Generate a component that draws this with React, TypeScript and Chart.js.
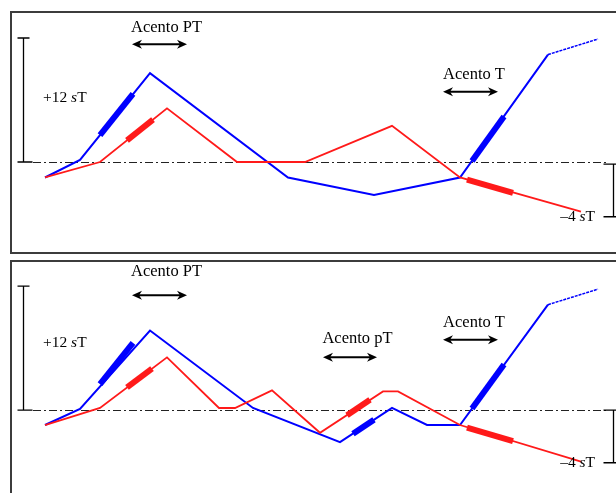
import React, { useEffect, useRef } from "react";
import { Chart, registerables } from "chart.js";
Chart.register(...registerables);

// x: time (arbitrary units), y: pitch in semitones (sT) relative to the reference line
// Panel 1
const p1BlueX = [0, 7, 21, 48.6, 65.8, 83, 100.6];
const p1BlueY = [-1.5, 0.2, 8.6, -1.5, -3.2, -1.5, 10.4];
const p1BlueTailX = [100.6, 110.6];
const p1BlueTailY = [10.4, 11.9];
const p1RedX = [0, 11, 24.4, 38.4, 52, 69.4, 83, 107.2];
const p1RedY = [-1.5, 0, 5.2, 0, 0, 3.5, -1.5, -4.8];
const p1BlueAccX = [[11, 17.6], [85.4, 91.8]];
const p1BlueAccY = [[2.6, 6.6], [0.1, 4.4]];
const p1RedAccX = [[16.4, 21.6], [84.4, 93.6]];
const p1RedAccY = [[2.1, 4.1], [-1.7, -3.0]];

// Panel 2
const p2BlueX = [0, 7, 21, 41.6, 59, 69.4, 76.4, 83, 100.6];
const p2BlueY = [-1.45, 0.1, 7.7, 0.2, -3.1, 0.2, -1.45, -1.45, 10.2];
const p2BlueTailX = [100.6, 110.6];
const p2BlueTailY = [10.2, 11.7];
const p2RedX = [0, 11, 24.4, 34.8, 38, 45.4, 55, 67.6, 70.6, 83, 107.2];
const p2RedY = [-1.45, 0.2, 5.1, 0.2, 0.2, 1.9, -2.2, 1.8, 1.8, -1.45, -5.0];
const p2BlueAccX = [[11, 17.6], [61.6, 65.8], [85.4, 91.8]];
const p2BlueAccY = [[2.5, 6.5], [-2.3, -0.95], [0.15, 4.4]];
const p2RedAccX = [[16.4, 21.4], [60.4, 65], [84.4, 93.6]];
const p2RedAccY = [[2.2, 4.0], [-0.5, 1.0], [-1.7, -3.0]];

// Labels
const accentLabels = ["Acento PT", "Acento T", "Acento pT"];
const rangeUp = "+12";
const rangeDown = "\u20134";
const unitItalic = "s";
const unitRest = "T";

const BLUE = "#0000ff";
const RED = "#ff1a1a";

const pts = (xs: number[], ys: number[]) => xs.map((x, i) => ({ x, y: ys[i] }));

function lineDs(xs: number[], ys: number[], color: string, width: number, axis: string, dash: number[] = []) {
  return {
    data: pts(xs, ys),
    showLine: true,
    borderColor: color,
    backgroundColor: color,
    borderWidth: width,
    borderDash: dash,
    pointRadius: 0,
    tension: 0,
    yAxisID: axis,
    clip: false as any,
    borderCapStyle: "butt" as const,
    borderJoinStyle: "miter" as const,
  };
}

type Ann = { text: string; x: number; y: number; ax1: number; ax2: number; ay: number };
type Panel = {
  axis: string;
  anns: Ann[];
  upLabelY: number;
  downTop: number;
  downBottom: number;
  downLabelY: number;
};

const panels: Panel[] = [
  {
    axis: "y1",
    anns: [
      { text: accentLabels[0], x: 24.3, y: 13.0, ax1: 17.4, ax2: 28.4, ay: 11.4 },
      { text: accentLabels[1], x: 85.8, y: 8.5, ax1: 79.6, ax2: 90.6, ay: 6.8 },
    ],
    upLabelY: 6.2,
    downTop: -0.2,
    downBottom: -5.3,
    downLabelY: -5.3,
  },
  {
    axis: "y2",
    anns: [
      { text: accentLabels[0], x: 24.3, y: 13.4, ax1: 17.4, ax2: 28.4, ay: 11.1 },
      { text: accentLabels[2], x: 62.5, y: 6.9, ax1: 55.6, ax2: 66.4, ay: 5.1 },
      { text: accentLabels[1], x: 85.8, y: 8.5, ax1: 79.6, ax2: 90.6, ay: 6.8 },
    ],
    upLabelY: 6.5,
    downTop: 0,
    downBottom: -5.1,
    downLabelY: -5.1,
  },
];

function drawArrow(ctx: CanvasRenderingContext2D, x1: number, x2: number, y: number) {
  const hl = 9, hw = 4.5;
  ctx.save();
  ctx.strokeStyle = "#000";
  ctx.fillStyle = "#000";
  ctx.lineWidth = 2;
  ctx.beginPath();
  ctx.moveTo(x1 + hl - 2, y);
  ctx.lineTo(x2 - hl + 2, y);
  ctx.stroke();
  ctx.beginPath();
  ctx.moveTo(x1, y);
  ctx.lineTo(x1 + hl + 1, y - hw);
  ctx.lineTo(x1 + hl - 2, y);
  ctx.lineTo(x1 + hl + 1, y + hw);
  ctx.closePath();
  ctx.fill();
  ctx.beginPath();
  ctx.moveTo(x2, y);
  ctx.lineTo(x2 - hl - 1, y - hw);
  ctx.lineTo(x2 - hl + 2, y);
  ctx.lineTo(x2 - hl - 1, y + hw);
  ctx.closePath();
  ctx.fill();
  ctx.restore();
}

function drawUnitLabel(ctx: CanvasRenderingContext2D, num: string, x: number, y: number, align: "left" | "right") {
  const normal = '15.5px "Liberation Serif"';
  const ital = 'italic 15.5px "Liberation Serif"';
  ctx.font = normal;
  const w1 = ctx.measureText(num + " ").width;
  const w3 = ctx.measureText(unitRest).width;
  ctx.font = ital;
  const w2 = ctx.measureText(unitItalic).width;
  const total = w1 + w2 + w3;
  const sx = align === "left" ? x : x - total;
  ctx.fillStyle = "#000";
  ctx.textBaseline = "middle";
  ctx.textAlign = "left";
  ctx.font = normal;
  ctx.fillText(num + " ", sx, y);
  ctx.font = ital;
  ctx.fillText(unitItalic, sx + w1, y);
  ctx.font = normal;
  ctx.fillText(unitRest, sx + w1 + w2, y);
}

const annotationPlugin = {
  id: "prosodyAnnotations",
  beforeDatasetsDraw(chart: any) {
    const ctx: CanvasRenderingContext2D = chart.ctx;
    const xs = chart.scales.x;
    panels.forEach((p) => {
      const ys = chart.scales[p.axis];
      const y0 = Math.round(ys.getPixelForValue(0)) + 0.5;
      ctx.save();
      ctx.strokeStyle = "#222";
      ctx.lineWidth = 1.2;
      ctx.setLineDash([8, 3, 2, 3]);
      ctx.beginPath();
      ctx.moveTo(xs.getPixelForValue(-2.4), y0);
      ctx.lineTo(xs.getPixelForValue(112.2), y0);
      ctx.stroke();
      ctx.restore();
    });
  },
  afterDatasetsDraw(chart: any) {
    const ctx: CanvasRenderingContext2D = chart.ctx;
    const xs = chart.scales.x;
    panels.forEach((p) => {
      const ys = chart.scales[p.axis];
      // +12 sT bracket
      const bx = Math.round(xs.getPixelForValue(-4.4)) + 0.5;
      const bTop = ys.getPixelForValue(12);
      const bBot = ys.getPixelForValue(0);
      ctx.save();
      ctx.strokeStyle = "#000";
      ctx.lineWidth = 1.3;
      ctx.beginPath();
      ctx.moveTo(bx, bTop);
      ctx.lineTo(bx, bBot);
      ctx.moveTo(bx - 6, bTop);
      ctx.lineTo(bx + 6, bTop);
      ctx.moveTo(bx - 6, bBot);
      ctx.lineTo(bx + 9, bBot);
      // -4 sT bracket
      const rx = Math.round(xs.getPixelForValue(113.6)) + 0.5;
      const rTop = ys.getPixelForValue(p.downTop);
      const rBot = ys.getPixelForValue(p.downBottom);
      ctx.moveTo(rx, rTop);
      ctx.lineTo(rx, rBot);
      ctx.moveTo(rx - 10, rTop);
      ctx.lineTo(rx + 6, rTop);
      ctx.moveTo(rx - 10, rBot);
      ctx.lineTo(rx + 6, rBot);
      ctx.stroke();
      ctx.restore();

      drawUnitLabel(ctx, rangeUp, xs.getPixelForValue(-0.4), ys.getPixelForValue(p.upLabelY), "left");
      drawUnitLabel(ctx, rangeDown, xs.getPixelForValue(110), ys.getPixelForValue(p.downLabelY), "right");

      p.anns.forEach((a) => {
        ctx.save();
        ctx.font = '16.5px "Liberation Serif"';
        ctx.fillStyle = "#000";
        ctx.textAlign = "center";
        ctx.textBaseline = "middle";
        ctx.fillText(a.text, xs.getPixelForValue(a.x), ys.getPixelForValue(a.y));
        ctx.restore();
        drawArrow(ctx, xs.getPixelForValue(a.ax1), xs.getPixelForValue(a.ax2), ys.getPixelForValue(a.ay));
      });
    });
  },
};

export default function App() {
  const ref = useRef<HTMLCanvasElement>(null);
  useEffect(() => {
    const datasets: any[] = [
      lineDs(p1RedX, p1RedY, RED, 1.8, "y1"),
      lineDs(p1BlueX, p1BlueY, BLUE, 2, "y1"),
      lineDs(p1BlueTailX, p1BlueTailY, BLUE, 1.5, "y1", [3, 1]),
      lineDs(p2RedX, p2RedY, RED, 1.8, "y2"),
      lineDs(p2BlueX, p2BlueY, BLUE, 2, "y2"),
      lineDs(p2BlueTailX, p2BlueTailY, BLUE, 1.5, "y2", [3, 1]),
    ];
    p1BlueAccX.forEach((xs, i) => datasets.push(lineDs(xs, p1BlueAccY[i], BLUE, 6, "y1")));
    p1RedAccX.forEach((xs, i) => datasets.push(lineDs(xs, p1RedAccY[i], RED, 6, "y1")));
    p2BlueAccX.forEach((xs, i) => datasets.push(lineDs(xs, p2BlueAccY[i], BLUE, 6, "y2")));
    p2RedAccX.forEach((xs, i) => datasets.push(lineDs(xs, p2RedAccY[i], RED, 6, "y2")));

    const chart = new Chart(ref.current!, {
      type: "scatter",
      data: { datasets },
      options: {
        responsive: false,
        maintainAspectRatio: false,
        animation: false,
        layout: { padding: 0 },
        plugins: { legend: { display: false }, tooltip: { enabled: false } },
        events: [],
        scales: {
          x: { type: "linear", min: -9, max: 114.2, display: false },
          y1: { type: "linear", min: -32.04, max: 15.68, display: false },
          y2: { type: "linear", min: -8.03, max: 39.69, display: false },
        },
      },
      plugins: [annotationPlugin],
    } as any);
    return () => chart.destroy();
  }, []);

  return (
    <div style={{ position: "fixed", left: 0, top: 0, width: 616, height: 493, overflow: "hidden", background: "#fff" }}>
      <div style={{ position: "absolute", left: 10, top: 11, width: 700, height: 243, border: "2px solid #3c3c3c", boxSizing: "border-box" }} />
      <div style={{ position: "absolute", left: 10, top: 260, width: 700, height: 300, border: "2px solid #3c3c3c", boxSizing: "border-box" }} />
      <canvas ref={ref} width={616} height={493} style={{ position: "absolute", left: 0, top: 0, width: 616, height: 493 }} />
    </div>
  );
}
